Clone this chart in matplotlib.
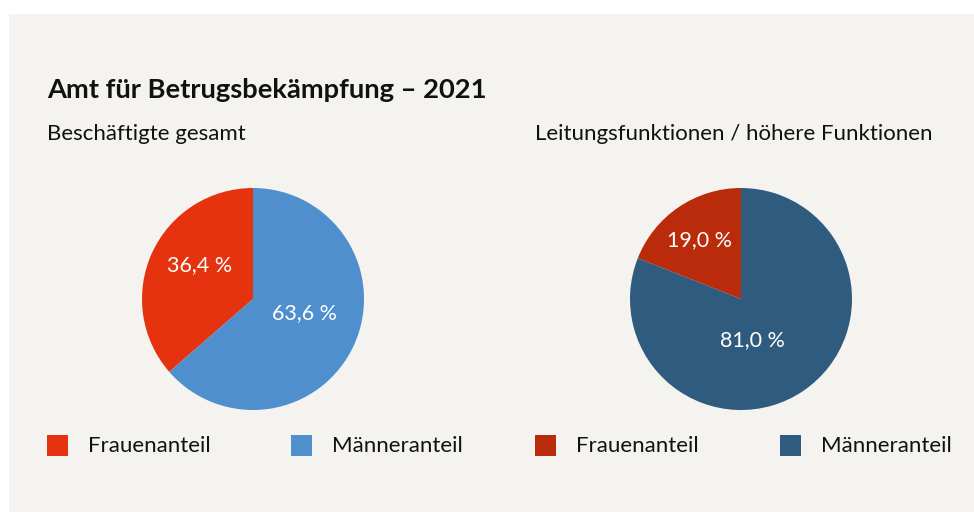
import numpy as np
import matplotlib
matplotlib.use("Agg")
import matplotlib.pyplot as plt
from matplotlib.patches import Rectangle

plt.rcParams['font.family'] = ['Lato', 'DejaVu Sans']

title = "Amt für Betrugsbekämpfung – 2021"
categories = ["Frauenanteil", "Männeranteil"]
subtitles = ["Beschäftigte gesamt", "Leitungsfunktionen / höhere Funktionen"]
values_total = [36.4, 63.6]
values_lead = [19.0, 81.0]
colors_total = ["#e5320f", "#4f8fcd"]
colors_lead = ["#b92b0a", "#2f5b7e"]

W, H = 974, 512
fig = plt.figure(figsize=(W / 100, H / 100), dpi=100)
fig.patch.set_facecolor("white")

def fx(px):
    return px / W

def fy(py):
    return 1 - py / H

# background panel
fig.patches.append(Rectangle((fx(9), 0), 1 - fx(9), fy(14), transform=fig.transFigure,
                             facecolor="#f4f3f0", edgecolor="none", zorder=-10))

fig.text(fx(47), fy(90), title, fontsize=19.7, fontweight="bold", color="#111111",
         va="center", ha="left")

def draw_pie(cx, cy, r, values, colors, subtitle, sub_x, label_geom, legend_x):
    ax = fig.add_axes([fx(cx - r), fy(cy + r), fx(2 * r), (2 * r) / H])
    ax.set_zorder(1)
    ax.patch.set_visible(False)
    wedges, _ = ax.pie(values, colors=colors, startangle=90, counterclock=True,
                       radius=1, wedgeprops=dict(linewidth=0))
    ax.set_xlim(-1, 1)
    ax.set_ylim(-1, 1)
    ax.set_aspect("equal")
    ax.axis("off")
    for w, v, (dist, dang) in zip(wedges, values, label_geom):
        mid = np.deg2rad((w.theta1 + w.theta2) / 2 + dang)
        ax.text(dist * np.cos(mid), dist * np.sin(mid),
                f"{v:.1f}".replace(".", ",") + " %",
                color="white", fontsize=15.5, ha="center", va="center")
    fig.text(fx(sub_x), fy(134), subtitle, fontsize=16, color="#111111",
             ha="left", va="center")
    for lx, c, lab in zip(legend_x, colors, categories):
        fig.patches.append(Rectangle((fx(lx), fy(456)), fx(21), 21 / H,
                                     transform=fig.transFigure, facecolor=c,
                                     edgecolor="none", zorder=2))
        fig.text(fx(lx + 41), fy(446), lab, fontsize=16, color="#111111",
                 ha="left", va="center")

draw_pie(253, 299, 111, values_total, colors_total, subtitles[0], 47,
         [(0.57, -8), (0.48, 9)], [47, 291])
draw_pie(741, 299, 111, values_lead, colors_lead, subtitles[1], 535,
         [(0.65, 1), (0.38, -19)], [535, 780])

fig.savefig("out.png", dpi=100, facecolor="white")
